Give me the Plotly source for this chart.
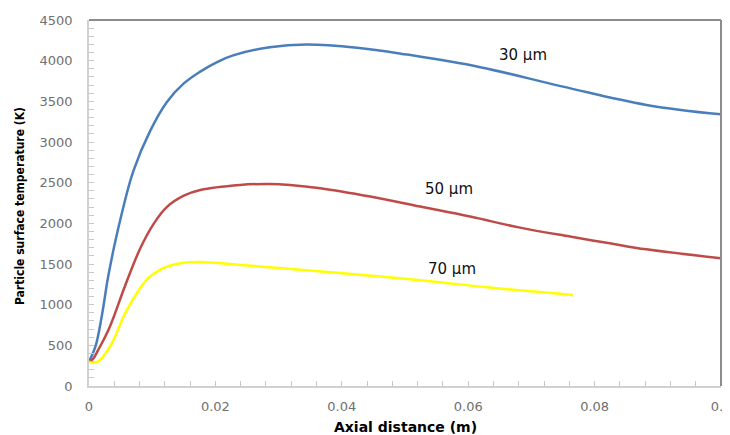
import plotly.graph_objects as go

# ---- data ----
x_30 = [0, 0.001, 0.002, 0.003, 0.004, 0.005, 0.007, 0.0097, 0.0123, 0.015, 0.0176,
        0.0205, 0.0228, 0.0286, 0.0344, 0.0424, 0.0503, 0.0619, 0.075, 0.0882, 0.1]
t_30 = [300, 480, 850, 1330, 1720, 2060, 2640, 3140, 3490, 3720, 3865,
        3990, 4065, 4166, 4200, 4160, 4075, 3920, 3681, 3456, 3340]

x_50 = [0, 0.0006, 0.0015, 0.0033, 0.0057, 0.0081, 0.0102, 0.0123, 0.015, 0.0176,
        0.0239, 0.0286, 0.0318, 0.0366, 0.0445, 0.0524, 0.0603, 0.0682, 0.0761,
        0.0824, 0.0882, 0.1]
t_50 = [300, 330, 450, 730, 1230, 1690, 1990, 2200, 2340, 2410,
        2472, 2484, 2472, 2432, 2329, 2206, 2083, 1947, 1837,
        1755, 1680, 1571]

x_70 = [0, 0.0013, 0.0033, 0.006, 0.0091, 0.0115, 0.0144, 0.0176, 0.0255, 0.0286,
        0.0397, 0.0533, 0.0634, 0.0766]
t_70 = [300, 295, 483, 935, 1304, 1440, 1509, 1525, 1480, 1460,
        1390, 1295, 1210, 1119]

x_ticks = [0, 0.02, 0.04, 0.06, 0.08, 0.1]
x_tick_labels = ["0", "0.02", "0.04", "0.06", "0.08", "0.1"]

labels = ["30 µm", "50 µm", "70 µm"]
label_x = [0.0687, 0.0569, 0.0574]
label_y = [4071, 2420, 1435]

colors = ["#4a7ebb", "#be4b48", "#ffff00"]

fig = go.Figure()
for xs, ys, c in zip([x_30, x_50, x_70], [t_30, t_50, t_70], colors):
    fig.add_trace(go.Scatter(x=xs, y=ys, mode="lines",
                             line=dict(color=c, width=2.5, shape="spline", smoothing=1.1),
                             showlegend=False, hoverinfo="skip"))

for t, lx, ly in zip(labels, label_x, label_y):
    fig.add_annotation(x=lx, y=ly, text=t, showarrow=False,
                       font=dict(family="DejaVu Sans", size=15, color="#111111"),
                       xanchor="center", yanchor="middle")

tickfont = dict(family="DejaVu Sans", size=13, color="#707070")

fig.update_xaxes(range=[0, 0.1], tickvals=x_ticks, ticktext=x_tick_labels,
                 showgrid=False, zeroline=False,
                 showline=True, linecolor="#d0d0d0", linewidth=1.5,
                 ticks="inside", ticklen=5, tickcolor="#c8c8c8",
                 minor=dict(dtick=0.004, ticks="inside", ticklen=5, tickcolor="#c8c8c8"),
                 tickfont=tickfont, ticklabelstandoff=8,
                 automargin=False, ticklabeloverflow="allow")
fig.update_yaxes(range=[0, 4500], dtick=500, showgrid=False, zeroline=False,
                 showline=True, linecolor="#d0d0d0", linewidth=1.5,
                 ticks="inside", ticklen=5, tickcolor="#c8c8c8",
                 minor=dict(dtick=100, ticks="inside", ticklen=5, tickcolor="#c8c8c8"),
                 tickfont=tickfont, ticklabelstandoff=12,
                 automargin=False, ticklabeloverflow="allow")

# top and right frame lines
fig.add_shape(type="line", xref="paper", yref="paper", x0=0, x1=1, y0=1, y1=1,
              line=dict(color="#8c8c8c", width=2))
fig.add_shape(type="line", xref="paper", yref="paper", x0=1, x1=1, y0=0, y1=1,
              line=dict(color="#8c8c8c", width=2))

fig.add_annotation(xref="paper", yref="paper", x=0.5, y=-0.112,
                   text="<b>Axial distance (m)</b>", showarrow=False,
                   font=dict(family="DejaVu Sans", size=14, color="#000000"),
                   xanchor="center", yanchor="middle")
fig.add_annotation(xref="paper", yref="paper", x=-0.109, y=0.492,
                   text="<b>Particle surface temperature (K)</b>", showarrow=False,
                   textangle=-90,
                   font=dict(family="DejaVu Sans Condensed", size=12, color="#000000"),
                   xanchor="center", yanchor="middle")

# page body has an 8px default margin, so the figure is sized to fill the rest
fig.update_layout(width=722, height=427, margin=dict(l=81, r=9, t=12, b=49),
                  paper_bgcolor="white", plot_bgcolor="white")

fig.write_html("out.html")
